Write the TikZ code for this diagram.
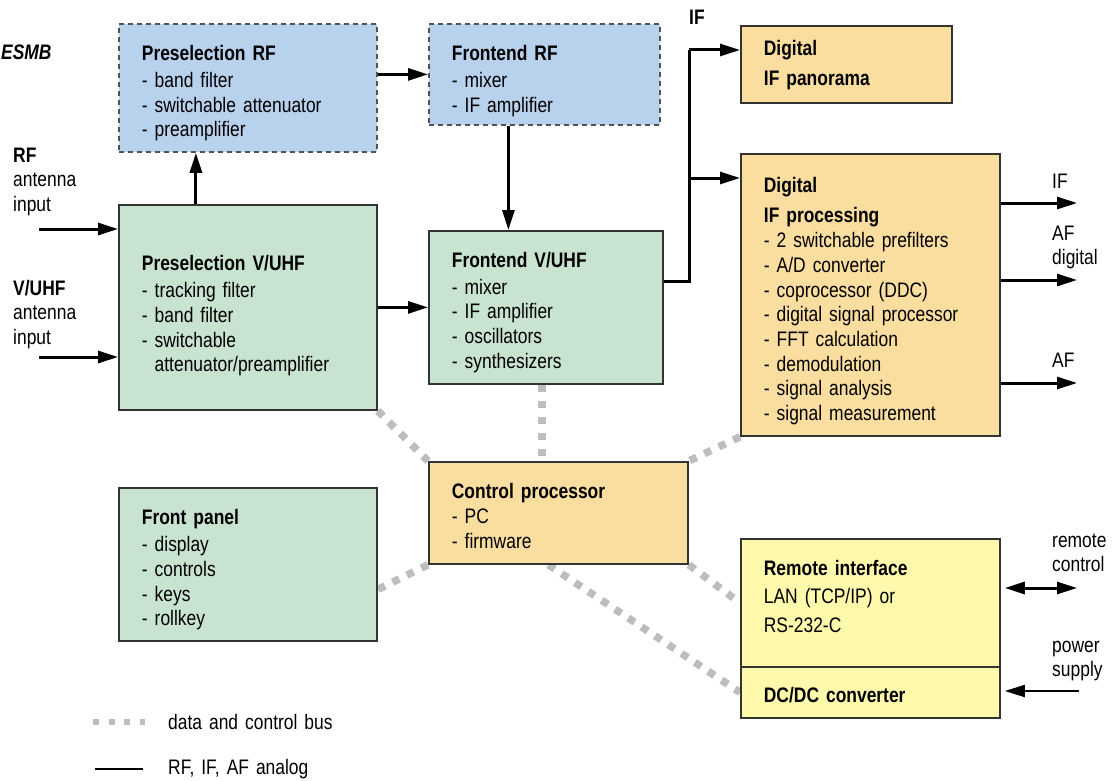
\documentclass[tikz,border=0pt]{standalone}
\usepackage{fontspec}
\setmainfont{Liberation Sans}[FakeStretch=0.83]
\usepackage{tikz}
\usetikzlibrary{arrows.meta,backgrounds}
\definecolor{rfblue}{HTML}{B8D2EE}
\definecolor{vhfgreen}{HTML}{C8E3CF}
\definecolor{dsporange}{HTML}{FADE9F}
\definecolor{ioyellow}{HTML}{FFF9AB}
\definecolor{frame}{HTML}{333333}
\definecolor{busgray}{HTML}{BDBDBD}
\newcommand{\head}[1]{\textbf{#1}}

\begin{document}
\begin{tikzpicture}[x=1pt,y=-1pt,>={Triangle[length=20pt,width=12pt]},font=\fontsize{21}{24.7}\selectfont]
        \tikzstyle{block} = [draw=frame, line width=1.8pt, anchor=north west, align=left, inner xsep=23pt, inner ysep=0pt]
        \tikzstyle{rfblock} = [block, fill=rfblue, draw=frame!85, dash pattern=on 5pt off 4pt]
        \tikzstyle{vhfblock} = [block, fill=vhfgreen]
        \tikzstyle{dspblock} = [block, fill=dsporange]
        \tikzstyle{ioblock} = [block, fill=ioyellow]
        \tikzstyle{sig} = [->, line width=3pt]
        \tikzstyle{bus} = [busgray, line width=7.5pt, dash pattern=on 7.5pt off 8.5pt]
        \tikzstyle{lbl} = [anchor=base west, align=left, inner sep=0pt, text width=90pt]

        \useasboundingbox (0,0) rectangle (1113,781);

        % Nodes
        \node[rfblock, minimum width=258pt, text width=212pt, text height=37pt, text depth=91pt] (prf) at (118,23)
            {\head{Preselection RF}\\[2pt]- band filter\\- switchable attenuator\\- preamplifier};
        \node[rfblock, minimum width=231pt, text width=185pt, text height=37pt, text depth=64pt] (frf) at (428,23)
            {\head{Frontend RF}\\[2pt]- mixer\\- IF amplifier};
        \node[vhfblock, minimum width=258pt, text width=212pt, text height=66pt, text depth=139pt] (pvuhf) at (118,204)
            {\head{Preselection V/UHF}\\[2pt]- tracking filter\\- band filter\\- switchable\\\hphantom{- }attenuator/preamplifier};
        \node[vhfblock, minimum width=234pt, text width=188pt, text height=37pt, text depth=116pt] (fvuhf) at (428,230)
            {\head{Frontend V/UHF}\\[1.5pt]- mixer\\- IF amplifier\\- oscillators\\- synthesizers};
        \node[dspblock, minimum width=211pt, text width=165pt, text height=30pt, text depth=47pt] (dpan) at (740,25)
            {\head{Digital}\\[5.3pt]\head{IF panorama}};
        \node[dspblock, minimum width=259pt, text width=213pt, text height=39pt, text depth=243pt] (dproc) at (740,153)
            {\head{Digital}\\[5.3pt]\head{IF processing}\\- 2 switchable prefilters\\- A/D converter\\- coprocessor (DDC)\\- digital signal processor\\- FFT calculation\\- demodulation\\- signal analysis\\- signal measurement};
        \node[dspblock, minimum width=259pt, text width=213pt, text height=37pt, text depth=65pt] (ctrl) at (428,461)
            {\head{Control processor}\\- PC\\- firmware};
        \node[vhfblock, minimum width=258pt, text width=212pt, text height=37pt, text depth=116pt] (fpan) at (118,487)
            {\head{Front panel}\\[2pt]- display\\- controls\\- keys\\- rollkey};
        \node[ioblock, minimum width=259pt, text width=213pt, text height=37pt, text depth=91pt] (remote) at (740,538)
            {\head{Remote interface}\\[3.3pt]LAN (TCP/IP) or\\[4.3pt]RS-232-C};
        \node[ioblock, minimum width=259pt, text width=213pt, text height=36pt, text depth=15pt] (dcdc) at (740,666)
            {\head{DC/DC converter}};

        % Labels
        \node[lbl] (esmb) at (1,60) {\textbf{\textit{ESMB}}};
        \node[lbl] (rflbl) at (13,162) {\head{RF}\\antenna\\input};
        \node[lbl] (vuhflbl) at (13,295) {\head{V/UHF}\\antenna\\input};
        \node[lbl] (iflbl) at (689,25) {\head{IF}};
        \node[lbl] (ifolbl) at (1052,188) {IF};
        \node[lbl] (afdlbl) at (1052,240) {AF\\digital};
        \node[lbl] (aflbl) at (1052,367) {AF};
        \node[lbl] (remlbl) at (1052,547) {remote\\control};
        \node[lbl] (pwrlbl) at (1052,652) {power\\supply};

        % Free ends
        \coordinate (rfin) at (39,229);
        \coordinate (vuhfin) at (39,357);
        \coordinate (ifout) at (689,281);
        \coordinate (ifup) at (689,50);
        \coordinate (ifmid) at (689,178);
        \coordinate (ifo) at (1077,203);
        \coordinate (afdo) at (1077,280);
        \coordinate (afo) at (1077,383);
        \coordinate (remo) at (1077,588);
        \coordinate (pwr) at (1079,691);

        % Edges
        \path (rfin) edge[sig] (pvuhf.west |- rfin);
        \path (vuhfin) edge[sig] (pvuhf.west |- vuhfin);
        \path ([xshift=-52pt]pvuhf.north) edge[sig] ([xshift=-52pt]prf.south);
        \path (prf.east |- frf.west) edge[sig] (frf.west);
        \path (pvuhf.east |- fvuhf.west) edge[sig] (fvuhf.west);
        \path ([xshift=-36pt]frf.south) edge[sig] ([xshift=-36pt]frf.south |- fvuhf.north);
        \draw[line width=3pt] (fvuhf.east |- ifout) -- (ifout) -- (ifup);
        \path (ifup) edge[sig] (dpan.west |- ifup);
        \path (ifmid) edge[sig] (dproc.west |- ifmid);
        \path (dproc.east |- ifo) edge[sig] (ifo);
        \path (dproc.east |- afdo) edge[sig] (afdo);
        \path (dproc.east |- afo) edge[sig] (afo);
        \path ([xshift=4pt]remote.east |- remo) edge[sig, <->] (remo);
        \path (pwr) edge[sig, line width=2pt, shorten >=4pt] (dcdc.east |- pwr);

        % Bus
        \begin{scope}[on background layer]
            \path (pvuhf.south east) edge[bus] (ctrl.north west);
            \path ([xshift=-4pt]fvuhf.south) edge[bus] ([xshift=-4pt]fvuhf.south |- ctrl.north);
            \path (dproc.south west) edge[bus] (ctrl.north east);
            \path (ctrl.south west) edge[bus] ([yshift=-25pt]fpan.east);
            \path (ctrl.south east) edge[bus] (remote.west);
            \path ([xshift=-10pt]ctrl.south) edge[bus] (dcdc.west);
        \end{scope}

        % Legend
        \draw[bus, line width=6pt, dash pattern=on 6pt off 9.5pt] (93,722) -- (145,722);
        \node[lbl, anchor=west, text width=200pt] (buslbl) at (168,722) {data and control bus};
        \draw[line width=2pt] (95,769) -- (143,769);
        \node[lbl, anchor=west, text width=200pt] (siglbl) at (168,769) {RF, IF, AF analog};
    \end{tikzpicture}
\end{document}
